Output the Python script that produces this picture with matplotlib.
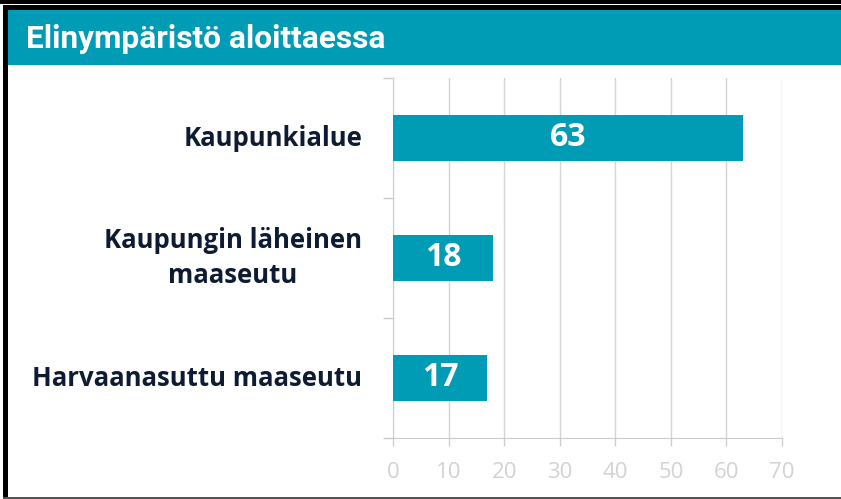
import numpy as np
import matplotlib.pyplot as plt
from matplotlib.patches import Rectangle
from matplotlib.transforms import offset_copy

# data
categories = ['Kaupunkialue', 'Kaupungin läheinen\nmaaseutu', 'Harvaanasuttu maaseutu']
values = [63, 18, 17]
x_ticks = [0, 10, 20, 30, 40, 50, 60, 70]
title = 'Elinympäristö aloittaessa'

teal = '#009CB5'
navy = '#0E1B33'
W, H = 841, 499

fig = plt.figure(figsize=(W / 100, H / 100), dpi=100)

# frame and header band (pixel coords -> figure fraction)
def px_rect(x0, y0, x1, y1, color):
    fig.patches.append(Rectangle((x0 / W, 1 - y1 / H), (x1 - x0) / W, (y1 - y0) / H,
                                 transform=fig.transFigure, color=color, lw=0, zorder=0))

px_rect(0, 0, W, 4, 'black')
px_rect(3, 5.5, W, 9.5, 'black')
px_rect(3, 5.5, 8, H, 'black')
px_rect(3, 497, W, H, '#555555')
px_rect(8, 10, W, 65, teal)
fig.text(26 / W, 1 - 39 / H, title, color='white', fontsize=22.8, fontweight='bold',
         family=['Roboto', 'DejaVu Sans'], va='center', ha='left')

ax = fig.add_axes([393 / W, 1 - 438 / H, (782 - 393) / W, (438 - 78) / H])
y = np.arange(len(categories))
ax.barh(y, values, height=0.39, color=teal, zorder=3)

for yi, v in zip(y, values):
    ax.text(v / 2, yi, str(v), color='white', fontsize=23, fontweight='bold',
            family=['Open Sans', 'DejaVu Sans'], ha='center', va='center', zorder=4)

ax.set_xlim(0, 70)
ax.set_ylim(len(categories) - 0.5, -0.5)
ax.set_xticks(x_ticks)
ax.set_xticklabels([str(t) for t in x_ticks], color='#D2D2D2', fontsize=16,
                   family=['Open Sans', 'DejaVu Sans'])
ax.tick_params(axis='x', length=6, width=1, color='#CCCCCC', pad=11)

# category boundaries as ticks on the y axis
ax.set_yticks(np.arange(-0.5, len(categories), 1.0))
ax.set_yticklabels([])
ax.tick_params(axis='y', length=7, width=1, color='#CCCCCC')

# category labels, right edge 31 px left of the axis
lbl_tr = offset_copy(ax.get_yaxis_transform(), fig=fig, x=-31, y=0, units='dots')
for yi, cat in zip(y, categories):
    ax.text(0, yi, cat, transform=lbl_tr, fontsize=18.5, fontweight='bold', color=navy,
            family=['Open Sans', 'DejaVu Sans'], ha='right', va='center',
            multialignment='center', linespacing=1.35)

ax.grid(axis='x', color='#D4D4D4', lw=1, zorder=0)
for side in ['top', 'right']:
    ax.spines[side].set_visible(False)
for side in ['left', 'bottom']:
    ax.spines[side].set_color('#CCCCCC')

fig.savefig('out.png', dpi=100)
